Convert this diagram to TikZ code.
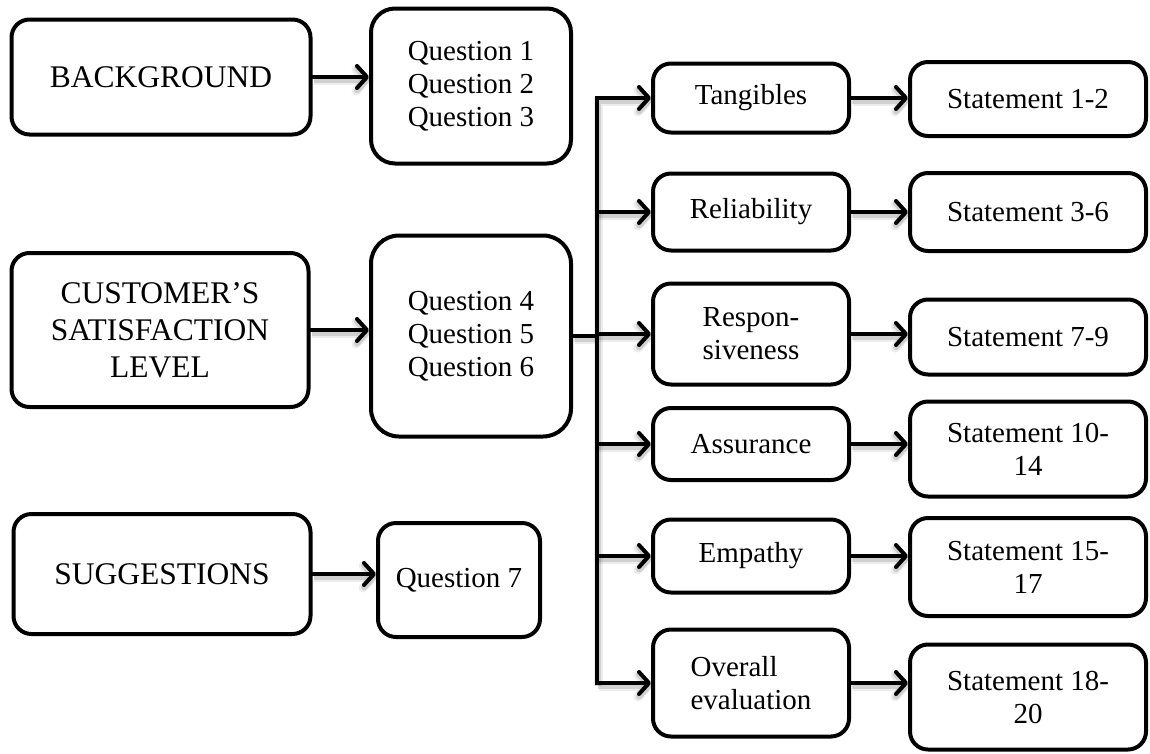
\documentclass[tikz,border=0pt]{standalone}
\usepackage{fontspec}
\setmainfont{Liberation Serif}
\usetikzlibrary{arrows.meta}
\begin{document}
\begin{tikzpicture}[x=1pt,y=-1pt,
  box/.style={draw, line width=4pt, rounded corners=18pt, align=center,
    inner sep=0pt, font=\fontsize{29}{33}\selectfont},
  head/.style={box, font=\fontsize{31.5}{37}\selectfont},
  soft/.style={preaction={draw=black, draw opacity=0.07, line width=9pt,
      transform canvas={shift={(1.5pt,-3pt)}}},
    preaction={draw=black, draw opacity=0.12, line width=6pt,
      transform canvas={shift={(1pt,-2.5pt)}}}},
  arr/.style={soft, line width=4pt, line cap=rect,
    -{Straight Barb[length=10pt,width=22pt,line cap=round,line join=round]}},
]
\useasboundingbox (0,0) rectangle (1150,753);

% left column: survey sections
\node[head, minimum width=299pt, minimum height=115pt] (bg) at (161,77) {BACKGROUND};
\node[head, minimum width=297pt, minimum height=154pt] (cs) at (160,330) {CUSTOMER’S\\SATISFACTION\\LEVEL};
\node[head, minimum width=297pt, minimum height=120pt] (sg) at (162,574) {SUGGESTIONS};

% questions
\node[box, rounded corners=24pt, minimum width=200pt, minimum height=155pt] (q1) at (471,86) {Question 1\\Question 2\\Question 3};
\node[box, rounded corners=28pt, minimum width=200pt, minimum height=201pt] (q2) at (471,336) {Question 4\\Question 5\\Question 6};
\node[box, minimum width=162pt, minimum height=114pt] (q3) at (459,580) {Question 7};

% service quality dimensions
\node[box, minimum width=196pt, minimum height=69pt] (t1) at (751,98) {Tangibles};
\node[box, minimum width=196pt, minimum height=77pt] (t2) at (751,212) {Reliability};
\node[box, minimum width=196pt, minimum height=101pt] (t3) at (751,334) {Respon-\\siveness};
\node[box, minimum width=196pt, minimum height=72pt] (t4) at (751,444) {Assurance};
\node[box, minimum width=196pt, minimum height=73pt] (t5) at (751,556) {Empathy};
\node[box, align=left, minimum width=196pt, minimum height=107pt] (t6) at (751,683) {Overall\\evaluation};

% statements
\node[box, minimum width=236pt, minimum height=74pt] (s1) at (1028,99) {Statement 1-2};
\node[box, minimum width=236pt, minimum height=78pt] (s2) at (1028,212) {Statement 3-6};
\node[box, minimum width=236pt, minimum height=75pt] (s3) at (1028,337) {Statement 7-9};
\node[box, minimum width=236pt, minimum height=95pt] (s4) at (1028,449) {Statement 10-\\14};
\node[box, minimum width=236pt, minimum height=98pt] (s5) at (1028,567) {Statement 15-\\17};
\node[box, minimum width=236pt, minimum height=105pt] (s6) at (1028,697) {Statement 18-\\20};

% section -> questions
\draw[arr] (bg.east) -- (bg.east -| q1.west);
\draw[arr] (cs.east) -- (cs.east -| q2.west);
\draw[arr] (sg.east) -- (sg.east -| q3.west);

% distribution bus
\coordinate (bus) at (597,0);
\draw[soft, line width=4.5pt, line cap=rect] (q2.east) -- (q2.east -| bus);
\draw[arr] (bus |- t6.west) -- (bus |- t1.west) -- (t1.west);
\foreach \n in {t2,t3,t4,t5,t6}
  \draw[arr] (bus |- \n.west) -- (\n.west);

% dimensions -> statements
\foreach \a/\b in {t1/s1,t2/s2,t3/s3,t4/s4,t5/s5,t6/s6}
  \draw[arr] (\a.east) -- (\a.east -| \b.west);
\end{tikzpicture}
\end{document}
